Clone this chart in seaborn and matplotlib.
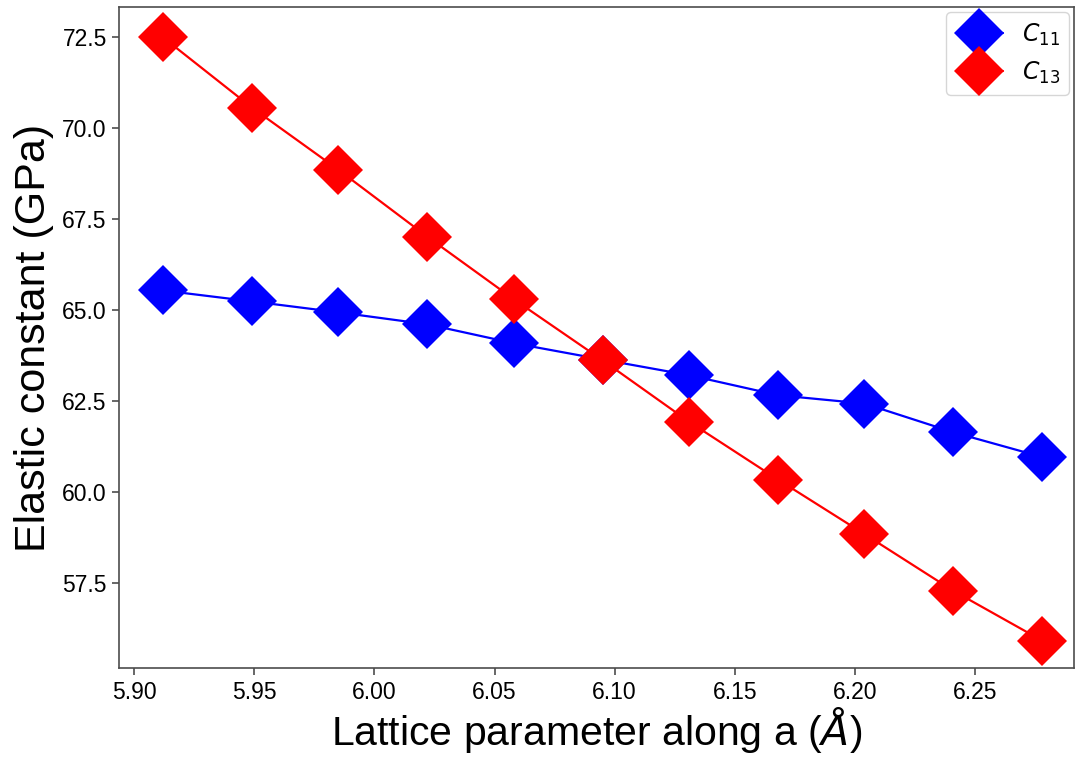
import matplotlib
matplotlib.use("Agg")
import matplotlib.pyplot as plt
import seaborn as sns
import pandas as pd

lattice_a = [5.912, 5.949, 5.985, 6.022, 6.058, 6.095, 6.131, 6.168, 6.204, 6.241, 6.278]
c11 = [65.54, 65.24, 64.94, 64.61, 64.09, 63.64, 63.21, 62.66, 62.43, 61.64, 60.96]
c13 = [72.50, 70.57, 68.86, 67.02, 65.30, 63.62, 61.93, 60.34, 58.84, 57.28, 55.91]
series_labels = [r"$C_{11}$", r"$C_{13}$"]
series_colors = ["#0000ff", "#ff0000"]

sns.set_style("ticks")
plt.rcParams["font.family"] = ["Liberation Sans", "DejaVu Sans"]
plt.rcParams["mathtext.fontset"] = "dejavusans"
plt.rcParams["text.color"] = "black"
plt.rcParams["axes.labelcolor"] = "black"

df = pd.DataFrame({
    "a": lattice_a * 2,
    "C": c11 + c13,
    "series": [series_labels[0]] * len(c11) + [series_labels[1]] * len(c13),
})

fig = plt.figure(figsize=(10.75, 7.62), dpi=100)
ax = fig.add_axes([0.111, 0.123, 0.888, 0.8675])

for lab, col in zip(series_labels, series_colors):
    sub = df[df["series"] == lab]
    sns.lineplot(data=sub, x="a", y="C", ax=ax, color=col, marker="D",
                 markersize=25, markeredgewidth=0, linewidth=1.6, label=lab)

ax.set_xlim(5.8938, 6.2912)
ax.set_ylim(55.15, 73.33)
ax.set_xticks([5.90, 5.95, 6.00, 6.05, 6.10, 6.15, 6.20, 6.25])
ax.set_yticks([57.5, 60.0, 62.5, 65.0, 67.5, 70.0, 72.5])
ax.xaxis.set_major_formatter(matplotlib.ticker.FormatStrFormatter("%.2f"))
ax.yaxis.set_major_formatter(matplotlib.ticker.FormatStrFormatter("%.1f"))

for s in ax.spines.values():
    s.set_color("0.3")
    s.set_linewidth(1.2)
ax.tick_params(axis="both", labelsize=16.5, colors="0.3", labelcolor="black",
               length=5, width=1.2, pad=4)

ax.set_xlabel(r"Lattice parameter along a ($\AA$)", fontsize=29.5, labelpad=1)
ax.set_ylabel("Elastic constant (GPa)", fontsize=31, labelpad=6)

ax.legend(loc="upper right", fontsize=17, frameon=True, borderaxespad=0.2)

fig.savefig("out.png", dpi=100)
